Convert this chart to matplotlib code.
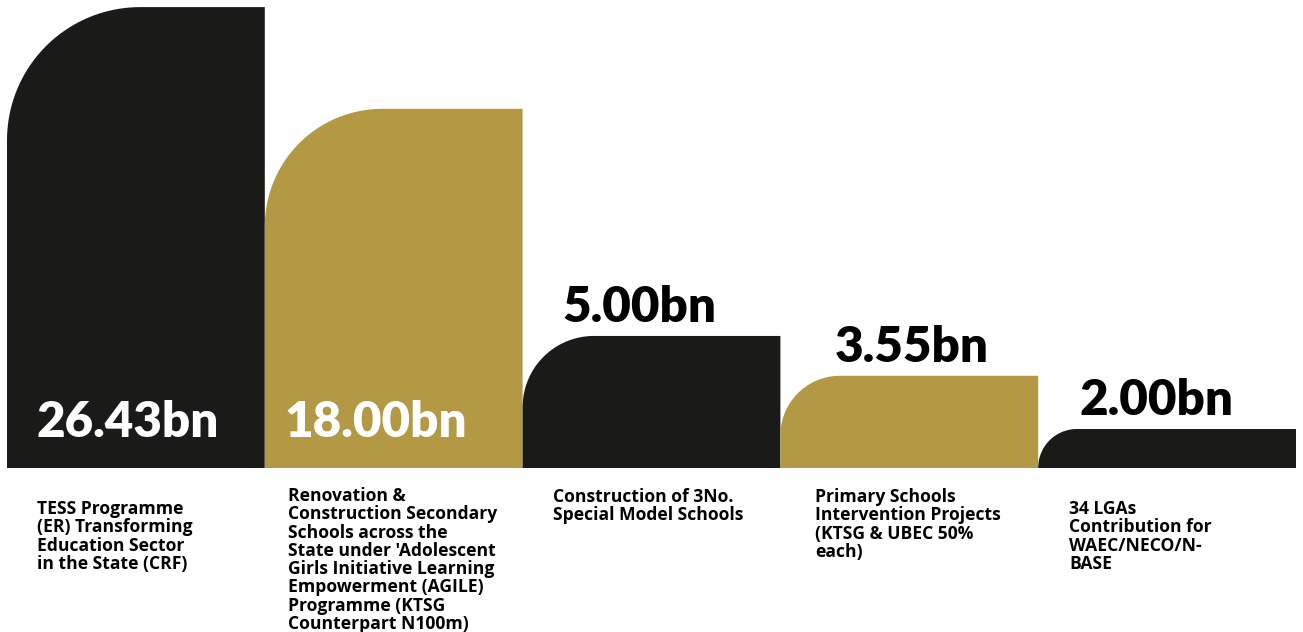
import numpy as np
import matplotlib
matplotlib.use("Agg")
from matplotlib import pyplot as plt
from matplotlib.patches import Polygon


# data

values = [26.43, 18.00, 5.00, 3.55, 2.00]
value_labels = ["26.43bn", "18.00bn", "5.00bn", "3.55bn", "2.00bn"]
categories = [
    "TESS Programme\n(ER) Transforming\nEducation Sector\nin the State (CRF)",
    "Renovation &\nConstruction Secondary\nSchools across the\nState under 'Adolescent\n"
    "Girls Initiative Learning\nEmpowerment (AGILE)\nProgramme (KTSG\nCounterpart N100m)",
    "Construction of 3No.\nSpecial Model Schools",
    "Primary Schools\nIntervention Projects\n(KTSG & UBEC 50%\neach)",
    "34 LGAs\nContribution for\nWAEC/NECO/N-\nBASE",
]

DARK = "#1a1b18"
GOLD = "#b39944"
bar_colors = [DARK, GOLD, DARK, GOLD, DARK]

# text placement relative to each bar's left edge (pixels)
val_dx = [29, 20, 40, 54, 41]
cat_dx = [30, 23, 30, 35, 31]
cat_dy = [32, 19, 20, 20, 32]

W, H = 1303, 632
fig = plt.figure(figsize=(W / 100, H / 100), dpi=100)
ax = fig.add_axes([7 / W, 164 / H, 1289 / W, 468 / H])
ax.set_yscale(
    "function",
    functions=(lambda v: np.sqrt(np.clip(v, 0, None)), lambda v: np.square(v)),
)
y0 = 1.144
ax.set_xlim(0, 5)
ax.set_ylim(y0, 27.08)
ax.axis("off")

to_axes = ax.transAxes.inverted()

for i, v in enumerate(values):
    (x0, yb), (x1, yt) = ax.transData.transform([(i, y0), (i + 1, v)])
    h = yt - yb
    r = min(6.2 * np.sqrt(h), h, x1 - x0)
    t = np.linspace(0.5 * np.pi, np.pi, 40)
    arc = np.column_stack([x0 + r + r * np.cos(t), yt - r + r * np.sin(t)])
    pts = np.vstack([[[x0, yb], [x1, yb], [x1, yt]], arc, [[x0, yb]]])
    ax.add_patch(
        Polygon(to_axes.transform(pts), closed=True, transform=ax.transAxes,
                fc=bar_colors[i], ec="none", lw=0)
    )

num_font = dict(family=["Lato", "DejaVu Sans"], weight="heavy", size=35.5)
lab_font = dict(family=["Open Sans", "DejaVu Sans"], weight="bold", size=12.6)

px = 0.72  # points per pixel at 100 dpi

for i, (v, lab) in enumerate(zip(values, value_labels)):
    if v > 10:
        # tall bars carry their value inside, near the base
        ax.annotate(lab, xy=(i, y0), xytext=(val_dx[i] * px, 31 * px),
                    textcoords="offset points", ha="left", va="baseline",
                    color="white", **num_font)
    else:
        ax.annotate(lab, xy=(i, v), xytext=(val_dx[i] * px, 14 * px),
                    textcoords="offset points", ha="left", va="baseline",
                    color="black", **num_font)

for i, cat in enumerate(categories):
    ax.annotate(cat, xy=(i, y0), xytext=(cat_dx[i] * px, -cat_dy[i] * px),
                textcoords="offset points", ha="left", va="top",
                color="black", linespacing=1.02, annotation_clip=False,
                **lab_font)

fig.savefig("out.png", dpi=100)
